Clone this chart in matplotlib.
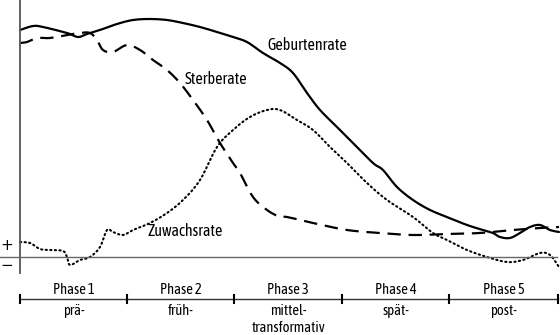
import numpy as np
from matplotlib import pyplot as plt

plt.rcParams['font.family'] = ['Asap Condensed', 'DejaVu Sans']

# curve traces, x/y in picture units (0..560 wide, 0..335 high, y downwards)
geburt_x = [20, 33, 43, 67, 78, 87, 100, 117, 133, 150, 167, 183, 200, 217, 233, 247, 263, 280,
            293, 307, 320, 337, 353, 373, 383, 397, 413, 430, 447, 467, 483, 493, 500, 510, 520,
            530, 540, 550, 559]
geburt_y = [30, 26, 27, 33, 37, 34, 30, 24, 20, 19, 20, 23, 27, 32, 37, 42, 53, 63,
            73, 93, 110, 127, 143, 163, 170, 187, 200, 210, 217, 225, 230, 233, 237, 238, 233,
            227, 225, 230, 232]

sterbe_x = [20, 27, 37, 50, 67, 80, 90, 97, 103, 113, 127, 140, 153, 167, 180, 193, 207, 220,
            233, 240, 253, 267, 280, 287, 313, 347, 380, 413, 447, 480, 513, 540, 559]
sterbe_y = [43, 42, 38, 38, 35, 33, 33, 40, 50, 52, 45, 50, 60, 70, 83, 100, 120, 143,
            163, 173, 197, 210, 217, 217, 223, 230, 233, 235, 234, 233, 230, 228, 227]

zuwachs_x = [20, 30, 40, 50, 63, 67, 70, 80, 90, 100, 107, 113, 123, 133, 150, 167, 183, 200,
             217, 233, 250, 267, 280, 297, 313, 330, 347, 367, 387, 413, 433, 447, 467, 487,
             507, 523, 540, 550, 559]
zuwachs_y = [242, 243, 249, 250, 251, 257, 265, 260, 257, 247, 230, 232, 235, 230, 223, 213, 200, 180,
             147, 130, 117, 110, 110, 120, 130, 147, 163, 183, 200, 217, 233, 240, 250, 257,
             262, 260, 253, 255, 267]

phase_names = ['Phase 1', 'Phase 2', 'Phase 3', 'Phase 4', 'Phase 5']
phase_sub = ['prä-', 'früh-', 'mittel-\ntransformativ', 'spät-', 'post-']
phase_edges = [20, 127, 234, 342, 449, 558]


def smooth(x, y, n=6):
    # catmull-rom through the traced points
    x = np.asarray(x, float)
    y = np.asarray(y, float)
    px = np.concatenate([[x[0]], x, [x[-1]]])
    py = np.concatenate([[y[0]], y, [y[-1]]])
    ox, oy = [], []
    for i in range(1, len(px) - 2):
        t = np.linspace(0, 1, n, endpoint=False)
        for p, o in ((px, ox), (py, oy)):
            p0, p1, p2, p3 = p[i - 1], p[i], p[i + 1], p[i + 2]
            o.extend(0.5 * (2 * p1 + (-p0 + p2) * t + (2 * p0 - 5 * p1 + 4 * p2 - p3) * t ** 2
                            + (-p0 + 3 * p1 - 3 * p2 + p3) * t ** 3))
    ox.append(x[-1])
    oy.append(y[-1])
    return ox, oy


fig = plt.figure(figsize=(5.6, 3.35), dpi=100)
ax = fig.add_axes([0, 0, 1, 1])
ax.set_xlim(0, 560)
ax.set_ylim(335, 0)
ax.axis('off')

gx, gy = smooth(geburt_x, geburt_y)
ax.plot(gx, gy, color='black', lw=1.6, solid_capstyle='round')
sx, sy = smooth(sterbe_x, sterbe_y)
ax.plot(sx, sy, color='black', lw=1.6, dashes=(6, 3.5))
zx, zy = smooth(zuwachs_x, zuwachs_y)
ax.plot(zx, zy, color='black', lw=1.5, linestyle=(0, (0.6, 1.6)), dash_capstyle='round')

# axes
ax.plot([20, 20], [0, 273], color='#555555', lw=1.3)
ax.plot([0, 557], [257, 257], color='#666666', lw=1.0)
ax.text(7, 246, '+', fontsize=11, ha='center', va='center', family='DejaVu Sans')
ax.text(7, 265, '−', fontsize=11, ha='center', va='center', family='DejaVu Sans')

ax.text(267, 45, 'Geburtenrate', fontsize=11.5, ha='left', va='center')
ax.text(185, 80, 'Sterberate', fontsize=11.5, ha='left', va='center')
ax.text(148, 232, 'Zuwachsrate', fontsize=11.5, ha='left', va='center')

# phase scale
ax.plot([phase_edges[0], phase_edges[-1]], [299, 299], color='#333333', lw=1.0)
for e in phase_edges:
    ax.plot([e, e], [295, 303], color='black', lw=1.5)
for i in range(5):
    mid = (phase_edges[i] + phase_edges[i + 1]) / 2
    ax.text(mid, 290, phase_names[i], fontsize=10.5, ha='center', va='center')
    for k, line in enumerate(phase_sub[i].split('\n')):
        ax.text(mid, 311 + 17 * k, line, fontsize=10.5, ha='center', va='center')

fig.savefig('out.png', dpi=100)
